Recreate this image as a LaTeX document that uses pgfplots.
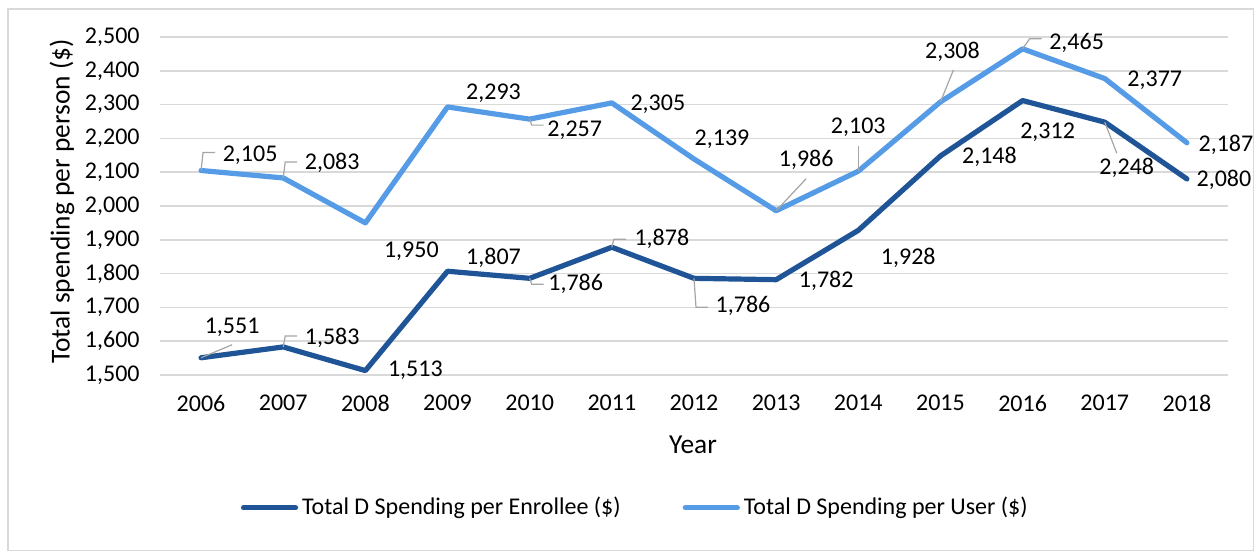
\documentclass[border=0pt]{standalone}
\usepackage{fontspec}
\setmainfont{Carlito}
\usepackage{pgfplots}
\pgfplotsset{compat=1.18}

\definecolor{enr}{RGB}{31,85,151}
\definecolor{usr}{RGB}{85,155,230}
\definecolor{gridc}{RGB}{217,217,217}
\definecolor{leadc}{RGB}{165,165,165}

% data label: x, y, dx, dy, text
\newcommand{\lab}[5]{\node[inner sep=0pt] at (axis cs:#1,#2) [xshift=#3pt, yshift=#4pt] {#5};}

\begin{document}
\fontsize{12}{14}\selectfont
\begin{tikzpicture}
\path[use as bounding box] (-80pt,-88pt) rectangle (547pt,187.5pt);
\draw[gridc, line width=0.6pt] (-76pt,-87.7pt) rectangle (546.7pt,183pt);
\begin{axis}[
  at={(0pt,0pt)}, anchor=south west,
  scale only axis,
  width=534pt, height=169pt,
  xmin=2005.5, xmax=2018.5,
  ymin=1500, ymax=2500,
  xtick=data,
  ytick={1500,1600,...,2500},
  axis line style={draw=none},
  major tick length=0pt,
  ymajorgrids,
  grid style={gridc, line width=0.8pt},
  /pgf/number format/assume math mode=true,
  xticklabel style={/pgf/number format/1000 sep=, yshift=-6pt},
  yticklabel style={/pgf/number format/1000 sep={,}, xshift=-6pt},
  legend style={at={(0.446,-0.393)}, anchor=center, draw=none, fill=none,
    legend columns=2, /tikz/every even column/.append style={column sep=29pt}},
  legend image code/.code={\draw[#1] (0pt,0pt) -- (26pt,0pt);},
  clip=false,
]
\addplot[enr, line width=2.6pt, line join=round, line cap=round] coordinates {
 (2006,1551) (2007,1583) (2008,1513) (2009,1807) (2010,1786) (2011,1878) (2012,1786)
 (2013,1782) (2014,1928) (2015,2148) (2016,2312) (2017,2248) (2018,2080)};
\addlegendentry{Total D Spending per Enrollee (\$)}
\addplot[usr, line width=2.6pt, line join=round, line cap=round] coordinates {
 (2006,2105) (2007,2083) (2008,1950) (2009,2293) (2010,2257) (2011,2305) (2012,2139)
 (2013,1986) (2014,2103) (2015,2308) (2016,2465) (2017,2377) (2018,2187)};
\addlegendentry{Total D Spending per User (\$)}

% leader lines
\draw[leadc, line width=0.6pt] (axis cs:2006,2105) -- ++(1pt,9pt) -- ++(6pt,0pt);
\draw[leadc, line width=0.6pt] (axis cs:2007,2083) -- ++(1pt,8pt) -- ++(6pt,0pt);
\draw[leadc, line width=0.6pt] (axis cs:2010,2257) -- ++(1pt,-3pt) -- ++(6pt,0pt);
\draw[leadc, line width=0.6pt] (axis cs:2013,1986) -- ++(15pt,16pt);
\draw[leadc, line width=0.6pt] (axis cs:2014,2103) -- ++(0pt,12.5pt);
\draw[leadc, line width=0.6pt] (axis cs:2015,2308) -- ++(6.5pt,16pt);
\draw[leadc, line width=0.6pt] (axis cs:2016,2465) -- ++(3.5pt,5pt) -- ++(6pt,0pt);
\draw[leadc, line width=0.6pt] (axis cs:2006,1551) -- ++(15.5pt,6.5pt);
\draw[leadc, line width=0.6pt] (axis cs:2007,1583) -- ++(1pt,5.5pt) -- ++(6pt,0pt);
\draw[leadc, line width=0.6pt] (axis cs:2010,1786) -- ++(1pt,-3pt) -- ++(6pt,0pt);
\draw[leadc, line width=0.6pt] (axis cs:2011,1878) -- ++(1pt,4pt) -- ++(6pt,0pt);
\draw[leadc, line width=0.6pt] (axis cs:2012,1786) -- ++(1pt,-14.5pt) -- ++(6pt,0pt);
\draw[leadc, line width=0.6pt] (axis cs:2017,2248) -- ++(6pt,-15.5pt);

% user labels
\lab{2006}{2105}{24.5}{7.75}{2,105}
\lab{2007}{2083}{24.5}{7.5}{2,083}
\lab{2008}{1950}{23}{-14}{1,950}
\lab{2009}{2293}{23}{7}{2,293}
\lab{2010}{2257}{22.5}{-5.75}{2,257}
\lab{2011}{2305}{23}{-0.5}{2,305}
\lab{2012}{2139}{14}{10}{2,139}
\lab{2013}{1986}{15}{25.5}{1,986}
\lab{2014}{2103}{0}{22}{2,103}
\lab{2015}{2308}{6}{25}{2,308}
\lab{2016}{2465}{27}{3}{2,465}
\lab{2017}{2377}{25}{-1}{2,377}
\lab{2018}{2187}{19.5}{-1}{2,187}
% enrollee labels
\lab{2006}{1551}{15.5}{15}{1,551}
\lab{2007}{1583}{24.5}{4.5}{1,583}
\lab{2008}{1513}{25}{0}{1,513}
\lab{2009}{1807}{23}{6.5}{1,807}
\lab{2010}{1786}{23}{-3}{1,786}
\lab{2011}{1878}{25}{4}{1,878}
\lab{2012}{1786}{24.5}{-14}{1,786}
\lab{2013}{1782}{25}{-0.5}{1,782}
\lab{2014}{1928}{25}{-14}{1,928}
\lab{2015}{2148}{24.5}{-0.5}{2,148}
\lab{2016}{2312}{12.5}{-16}{2,312}
\lab{2017}{2248}{11}{-23}{2,248}
\lab{2018}{2080}{18.5}{-0.5}{2,080}
\end{axis}
\node[font=\fontsize{13.7}{16}\selectfont] at (266.5pt,-35pt) {Year};
\node[rotate=90, font=\fontsize{13.7}{16}\selectfont] at (-49pt,86.75pt) {Total spending per person (\$)};
\end{tikzpicture}
\end{document}
